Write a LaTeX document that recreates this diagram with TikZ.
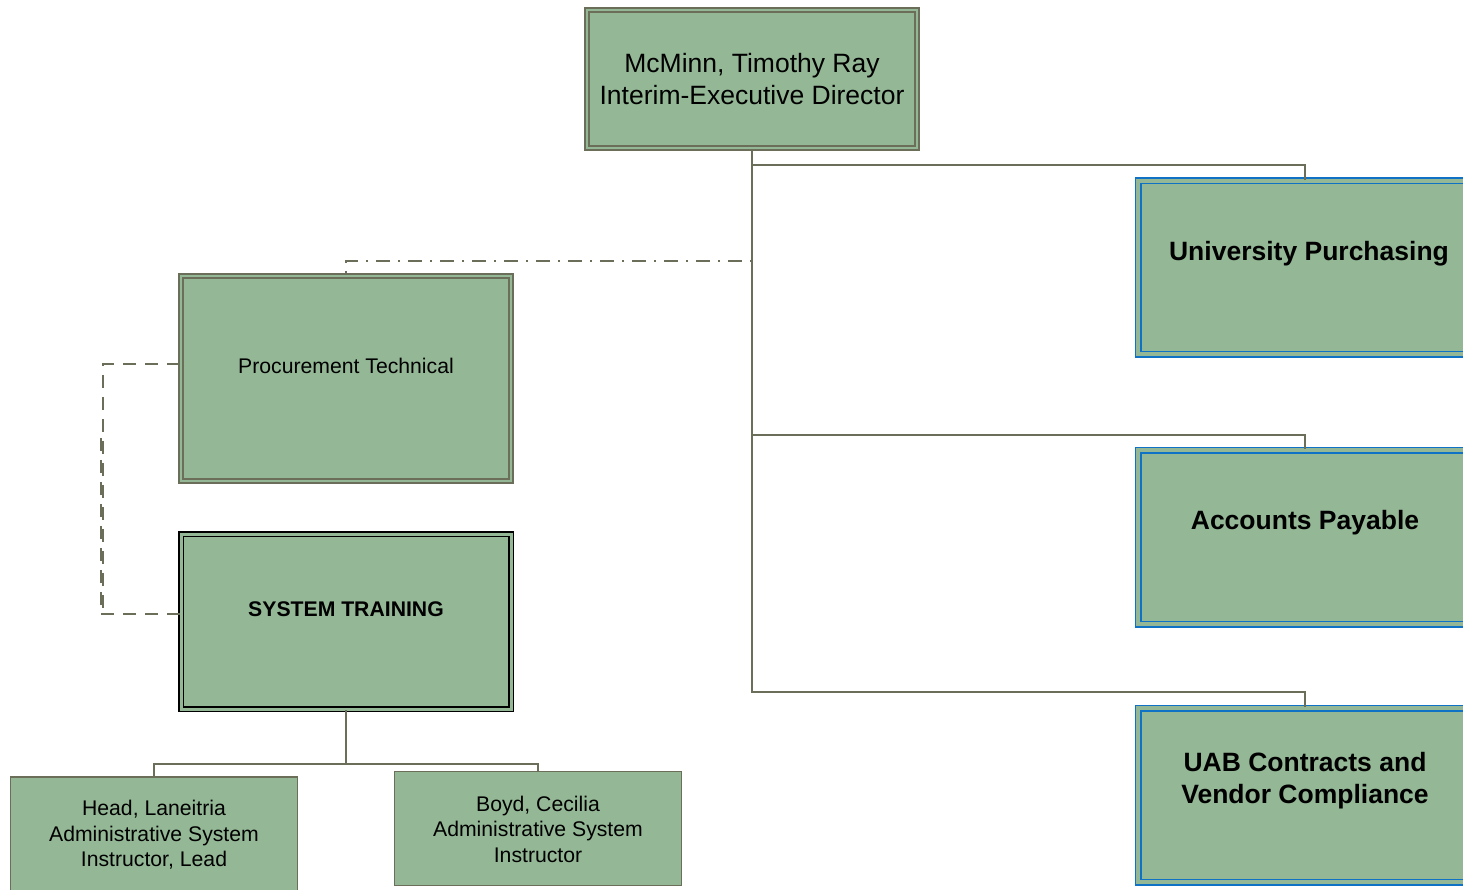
\documentclass[tikz,border=0pt]{standalone}
\usepackage{fontspec}
\setmainfont{Liberation Sans}
\definecolor{boxfill}{HTML}{94B896}
\definecolor{olive}{HTML}{6B6E58}
\definecolor{bluebd}{HTML}{0F72C4}
\tikzset{
  gbox/.style={draw=olive, line width=1.6pt, double=boxfill, double distance=2.6pt, fill=boxfill, inner sep=0pt},
  bbox/.style={draw=bluebd, line width=1.9pt, double=boxfill, double distance=3.2pt, fill=boxfill, inner sep=0pt},
  kbox/.style={draw=black, line width=1.8pt, double=boxfill, double distance=3pt, fill=boxfill, inner sep=0pt},
  sbox/.style={draw=olive, line width=1.5pt, fill=boxfill, inner sep=0pt},
  conn/.style={draw=olive, line width=1.8pt},
  dashconn/.style={draw=olive, line width=1.6pt, dash pattern=on 13pt off 9pt},
  dotconn/.style={draw=olive, line width=1.6pt, dash pattern=on 2pt off 8pt on 14pt off 8pt},
  bigtxt/.style={font=\fontsize{26.5}{32}\selectfont, align=center, inner sep=0pt},
  bigbold/.style={font=\fontsize{26.5}{32}\selectfont\bfseries, align=center, inner sep=0pt},
  midtxt/.style={font=\fontsize{21.2}{25.5}\selectfont, align=center, inner sep=0pt},
  midbold/.style={font=\fontsize{21.2}{25.5}\selectfont\bfseries, align=center, inner sep=0pt},
}
\begin{document}
\begin{tikzpicture}[x=1pt,y=-1pt]
\useasboundingbox (0,0) rectangle (1463,890);
\clip (0,0) rectangle (1463,890);
% connector points
\coordinate (j1) at (752,165);
\coordinate (j2) at (752,435);
\coordinate (j3) at (752,692);
\coordinate (jd) at (752,261);
\coordinate (sj) at (346,764);
\coordinate (dl1) at (103,614);
\coordinate (dl2) at (101,436);
% boxes
\node[gbox, minimum width=330pt, minimum height=138pt] (top) at (752,79) {};
\node[gbox, minimum width=330pt, minimum height=205pt] (proc) at (346,378.5) {};
\node[kbox, minimum width=330pt, minimum height=175pt] (st) at (346,621.5) {};
\node[bbox, minimum width=334pt, minimum height=173pt] (up) at (1305,267.5) {};
\node[bbox, minimum width=334pt, minimum height=174pt] (ap) at (1305,537) {};
\node[bbox, minimum width=334pt, minimum height=174pt] (uab) at (1305,795) {};
\node[sbox, minimum width=287pt, minimum height=114pt] (head) at (154,833.75) {};
\node[sbox, minimum width=287pt, minimum height=114pt] (boyd) at (538,828.5) {};
\coordinate (pw) at ([yshift=14.5pt]proc.west);
\coordinate (sw) at ([yshift=7.5pt]st.west);
% lines
\draw[conn] (top.south) -- (j3) -| (uab.north);
\draw[conn] (j1) -| (up.north);
\draw[conn] (j2) -| (ap.north);
\draw[conn] (st.south) -- (sj);
\draw[conn] (head.north) |- (sj) -| (boyd.north);
\draw[dotconn] (jd) -| (proc.north);
\draw[dashconn] (pw) -| (dl1);
\draw[dashconn] (sw) -| (dl2);
% texts
\node[bigtxt] (ttop) at (752,79) {McMinn, Timothy Ray\\Interim-Executive Director};
\node[bigbold] (tup) at (1309,254) {University Purchasing};
\node[bigbold] (tap) at (1305,523) {Accounts Payable};
\node[bigbold] (tuab) at (1305,781) {UAB Contracts and\\Vendor Compliance};
\node[midtxt] (tproc) at (346,366) {Procurement Technical};
\node[midbold] (tst) at (346,609) {SYSTEM TRAINING};
\node[midtxt] (thead) at (154,835) {Head, Laneitria\\Administrative System\\Instructor, Lead};
\node[midtxt] (tboyd) at (538,829) {Boyd, Cecilia\\Administrative System\\Instructor};
\end{tikzpicture}
\end{document}
